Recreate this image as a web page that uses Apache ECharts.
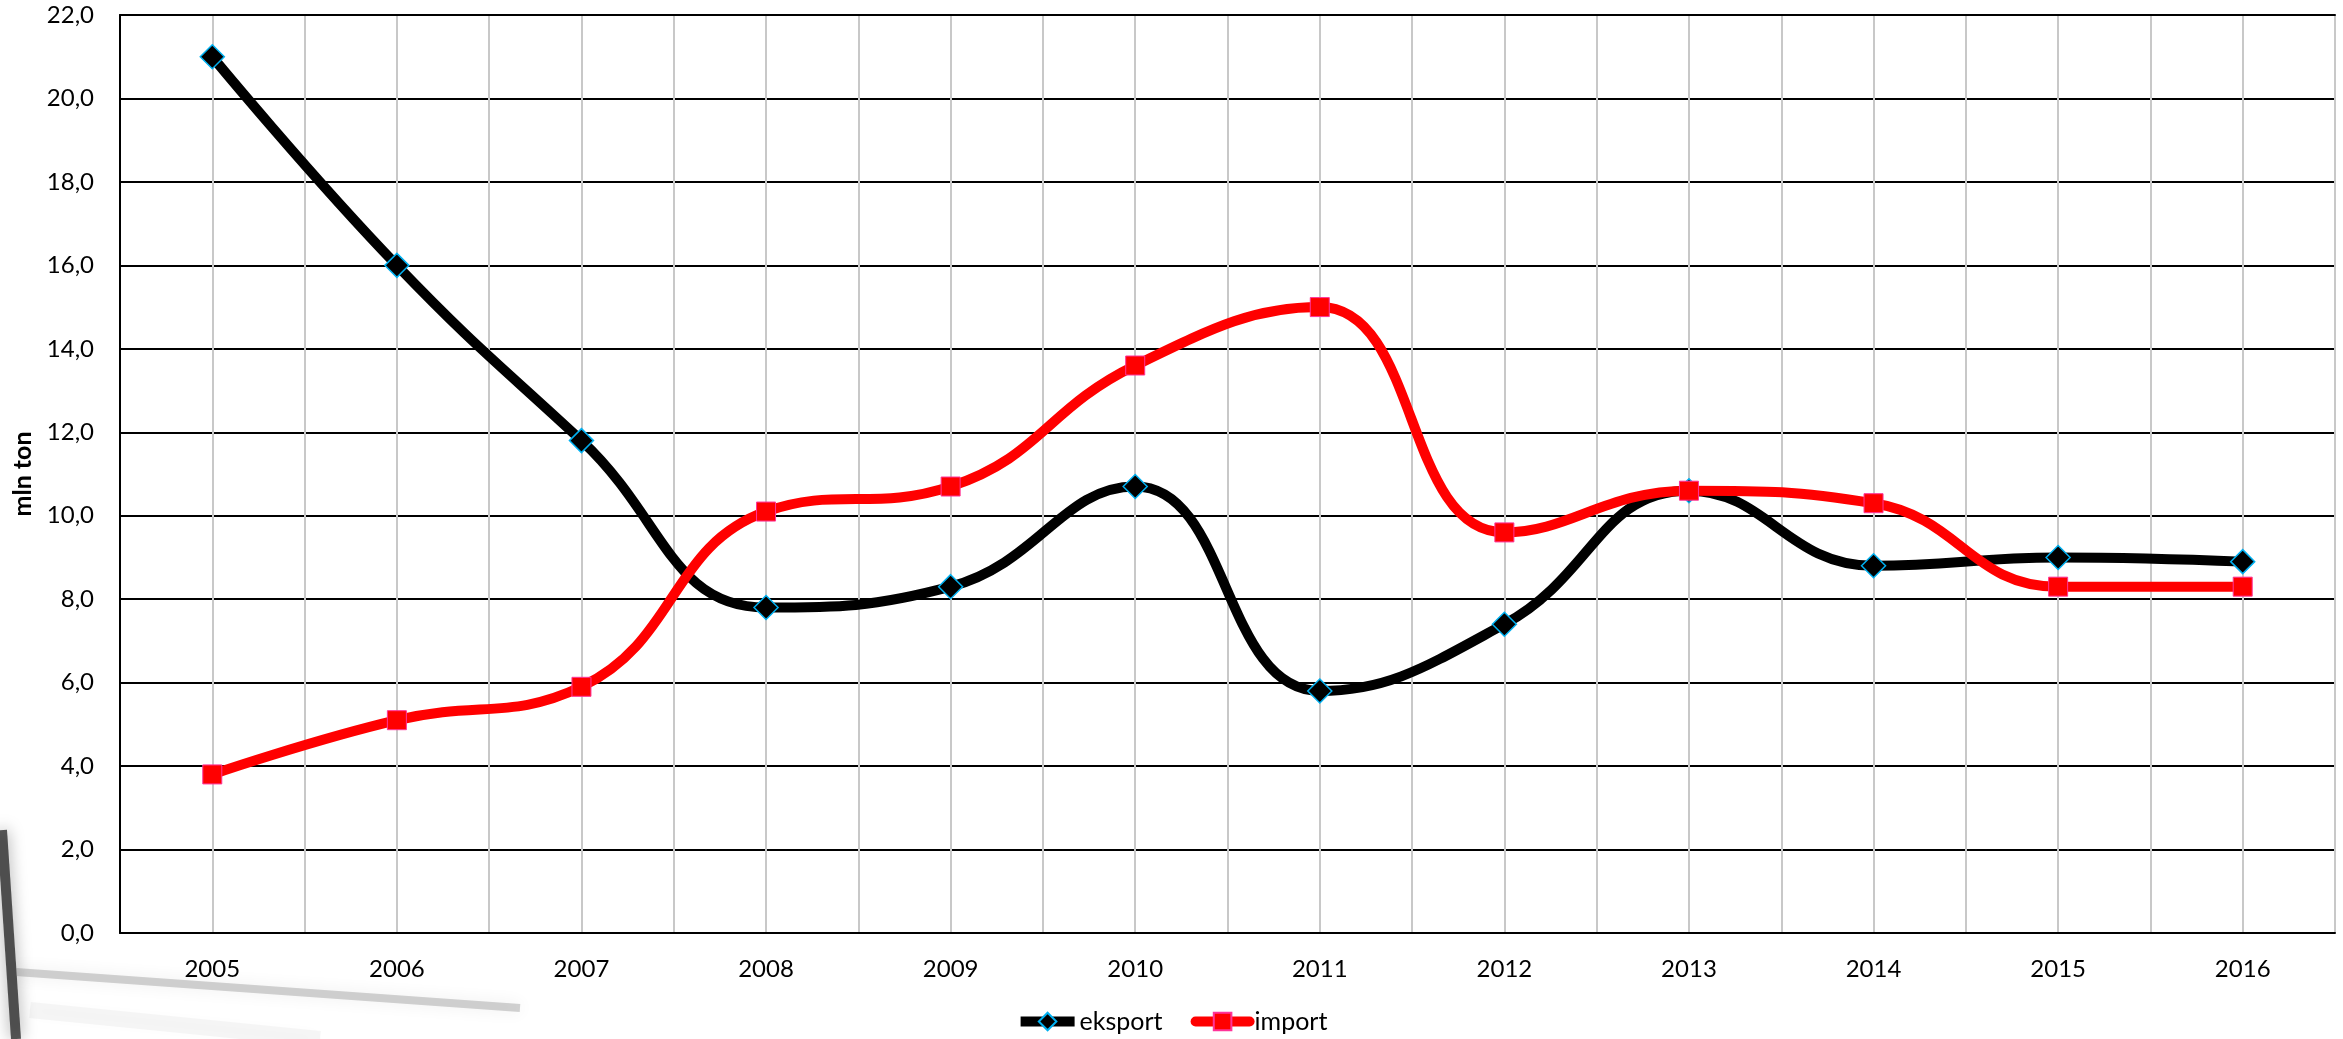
<!DOCTYPE html>
<html>
<head>
<meta charset="utf-8" />
<title>eksport / import</title>
<script type="text/javascript" src="https://cdn.jsdelivr.net/npm/echarts@6/dist/echarts.min.js"></script>
<style>
    html, body { margin: 0; padding: 0; background: #fff; }
    #main { width: 2343px; height: 1039px; }
</style>
</head>
<body>
<div id="main"></div>
<script type="text/javascript">
    var years = ['2005', '2006', '2007', '2008', '2009', '2010', '2011', '2012', '2013', '2014', '2015', '2016'];
    var eksport = [21.0, 16.0, 11.8, 7.8, 8.3, 10.7, 5.8, 7.4, 10.6, 8.8, 9.0, 8.9];
    var importData = [3.8, 5.1, 5.9, 10.1, 10.7, 13.6, 15.0, 9.6, 10.6, 10.3, 8.3, 8.3];
    var yTicks = [0, 2, 4, 6, 8, 10, 12, 14, 16, 18, 20, 22];

    var font = 'Lato, "Open Sans", sans-serif';
    var myChart = echarts.init(document.getElementById('main'));

    myChart.setOption({
        backgroundColor: '#fff',
        animation: false,
        // faint blurred streaks at the bottom left (photo in the background)
        graphic: [
            {
                type: 'line', z: -10, silent: true,
                shape: { x1: 2, y1: 830, x2: 16, y2: 1039 },
                style: { stroke: 'rgba(20,20,20,0.7)', lineWidth: 10, shadowBlur: 16, shadowColor: 'rgba(0,0,0,0.5)' }
            },
            {
                type: 'line', z: -10, silent: true,
                shape: { x1: 16, y1: 972, x2: 520, y2: 1008 },
                style: { stroke: 'rgba(110,110,110,0.3)', lineWidth: 8, shadowBlur: 16, shadowColor: 'rgba(0,0,0,0.25)' }
            },
            {
                type: 'line', z: -10, silent: true,
                shape: { x1: 30, y1: 1010, x2: 320, y2: 1039 },
                style: { stroke: 'rgba(180,180,180,0.12)', lineWidth: 16, shadowBlur: 16, shadowColor: 'rgba(0,0,0,0.1)' }
            }
        ],
        grid: {
            left: 120,
            top: 15,
            right: 8,
            bottom: 106
        },
        legend: {
            bottom: 0,
            left: 'center',
            itemWidth: 54,
            itemHeight: 22,
            itemGap: 28,
            textStyle: { fontFamily: font, fontSize: 25, color: '#000' },
            data: [
                { name: 'eksport', lineStyle: { width: 10 } },
                { name: 'import', lineStyle: { width: 10, cap: 'round' } }
            ]
        },
        xAxis: [
            {
                type: 'category',
                data: years,
                boundaryGap: true,
                axisLine: { lineStyle: { color: '#000', width: 2 } },
                axisTick: { show: false },
                splitLine: { show: false },
                axisLabel: { fontFamily: font, fontSize: 24, color: '#000', margin: 24 }
            },
            {
                // half-step grid lines (category centres and boundaries)
                type: 'value',
                position: 'top',
                min: 0,
                max: 24,
                interval: 1,
                axisLine: { show: true, onZero: false, lineStyle: { color: '#000', width: 2 } },
                axisTick: { show: false },
                axisLabel: { show: false },
                splitLine: { show: true, lineStyle: { color: '#c8c8c8', width: 2 } }
            }
        ],
        yAxis: {
            type: 'value',
            min: yTicks[0],
            max: yTicks[yTicks.length - 1],
            interval: 2,
            name: 'mln ton',
            nameLocation: 'middle',
            nameGap: 80,
            nameTextStyle: { fontFamily: font, fontSize: 25, fontWeight: 'bold', color: '#000' },
            axisLine: { show: true, lineStyle: { color: '#000', width: 2 } },
            axisTick: { show: false },
            axisLabel: {
                fontFamily: font, fontSize: 24, color: '#000', margin: 26,
                formatter: function (v) { return v.toFixed(1).replace('.', ','); }
            },
            splitLine: { lineStyle: { color: '#000', width: 2 } }
        },
        series: [
            {
                name: 'eksport',
                type: 'line',
                data: eksport,
                smooth: 0.45,
                symbol: 'diamond',
                symbolSize: 24,
                lineStyle: { color: '#000', width: 10 },
                itemStyle: { color: '#000', borderColor: '#00b0f0', borderWidth: 1.5 },
                z: 3
            },
            {
                name: 'import',
                type: 'line',
                data: importData,
                smooth: 0.45,
                symbol: 'rect',
                symbolSize: 19,
                lineStyle: { color: '#ff0000', width: 10 },
                itemStyle: { color: '#ff0000', borderColor: '#ff3399', borderWidth: 1 },
                z: 4
            }
        ]
    });
</script>
</body>
</html>
